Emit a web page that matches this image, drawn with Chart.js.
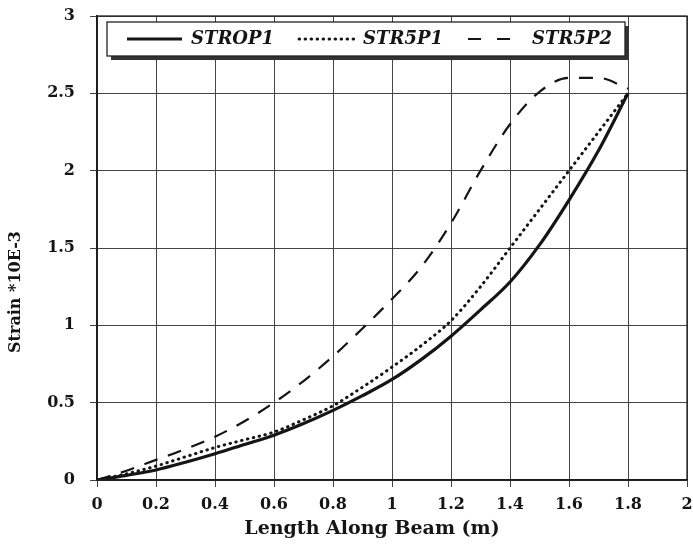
<!DOCTYPE html>
<html>
<head>
<meta charset="utf-8">
<script src="https://cdn.jsdelivr.net/npm/chart.js@4.4.1/dist/chart.umd.min.js"></script>
<style>
  html, body { margin: 0; padding: 0; background: #ffffff; }
  #wrap { width: 693px; height: 546px; position: relative; }
</style>
</head>
<body>
<div id="wrap"><canvas id="c" width="693" height="546"></canvas></div>
<script>
// ---- data ----
const lengthX = [0, 0.1, 0.2, 0.3, 0.4, 0.5, 0.6, 0.7, 0.8, 0.9, 1.0, 1.1, 1.2, 1.3, 1.4, 1.5, 1.6, 1.7, 1.8];
const strop1  = [0, 0.03, 0.065, 0.115, 0.17, 0.23, 0.29, 0.365, 0.45, 0.545, 0.65, 0.78, 0.93, 1.1, 1.28, 1.52, 1.81, 2.13, 2.5];
const str5p1  = [0, 0.04, 0.09, 0.15, 0.21, 0.26, 0.31, 0.39, 0.48, 0.6, 0.73, 0.87, 1.03, 1.25, 1.5, 1.75, 2.0, 2.25, 2.5];
const str5p2  = [0, 0.06, 0.13, 0.2, 0.28, 0.38, 0.5, 0.64, 0.8, 0.98, 1.17, 1.38, 1.66, 2.0, 2.3, 2.51, 2.6, 2.6, 2.53];
const seriesNames = ['STROP1', 'STR5P1', 'STR5P2'];
const xTickLabels = ['0', '0.2', '0.4', '0.6', '0.8', '1', '1.2', '1.4', '1.6', '1.8', '2'];
const yTickLabels = ['0', '0.5', '1', '1.5', '2', '2.5', '3'];
const xTitle = 'Length Along Beam (m)';
const yTitle = 'Strain *10E-3';

const toPoints = (ys) => ys.map((y, i) => ({ x: lengthX[i], y: y }));

const FONT = '"DejaVu Serif", "Liberation Serif", serif';
const INK = '#151515';

const framePlugin = {
  id: 'frame',
  afterInit(chart) {
    // the legend sits inside the plot: it must not take layout space
    const lg = chart.legend;
    const fit = lg.fit;
    lg.fit = function () { fit.call(this); this.height = 0; };
  },
  afterLayout(chart) {
    const lg = chart.legend;
    lg.left = chart.chartArea.left + 5;
    lg.right = chart.chartArea.right;
    lg.width = lg.right - lg.left;
    lg.top = chart.chartArea.top - 11;
    lg.bottom = lg.top + 50;
    lg.height = 50;
  },
  afterDatasetsDraw(chart) {
    const ctx = chart.ctx;
    const a = chart.chartArea;
    ctx.save();
    ctx.strokeStyle = '#222';
    ctx.lineWidth = 1.3;
    ctx.strokeRect(a.left, a.top, a.right - a.left, a.bottom - a.top);
    // legend box with shadow
    const bx = 107, by = 22, bw = 518, bh = 34;
    ctx.fillStyle = '#333';
    ctx.fillRect(bx + 4, by + 4, bw, bh);
    ctx.fillStyle = '#ffffff';
    ctx.fillRect(bx, by, bw, bh);
    ctx.strokeStyle = '#222';
    ctx.lineWidth = 1.3;
    ctx.strokeRect(bx, by, bw, bh);
    ctx.restore();
    chart.legend.draw();
  },
  afterDraw(chart) {
    const ctx = chart.ctx;
    ctx.save();
    ctx.fillStyle = INK;
    ctx.textAlign = 'center';
    ctx.textBaseline = 'middle';
    ctx.font = 'bold 19px ' + FONT;
    ctx.fillText(xTitle, 372, 529);
    ctx.font = 'bold 16px ' + FONT;
    ctx.translate(16, 292);
    ctx.rotate(-Math.PI / 2);
    ctx.fillText(yTitle, 0, 0);
    ctx.restore();
  }
};

new Chart(document.getElementById('c'), {
  type: 'line',
  data: {
    datasets: [
      { label: seriesNames[0], data: toPoints(strop1), borderColor: INK, backgroundColor: INK,
        borderWidth: 3.2, pointRadius: 0, tension: 0.4, cubicInterpolationMode: 'monotone', fill: false },
      { label: seriesNames[1], data: toPoints(str5p1), borderColor: INK, backgroundColor: INK,
        borderWidth: 3, borderDash: [0.5, 5.5], borderCapStyle: 'round', pointRadius: 0,
        tension: 0.4, cubicInterpolationMode: 'monotone', fill: false },
      { label: seriesNames[2], data: toPoints(str5p2), borderColor: INK, backgroundColor: INK,
        borderWidth: 2.2, borderDash: [14, 11], pointRadius: 0,
        tension: 0.4, cubicInterpolationMode: 'monotone', fill: false }
    ]
  },
  options: {
    responsive: false,
    animation: false,
    events: [],
    layout: { padding: { top: 16, right: 6, left: 0, bottom: 0 } },
    plugins: {
      title: { display: false },
      tooltip: { enabled: false },
      legend: {
        display: true,
        position: 'top',
        fullSize: false,
        align: 'start',
        labels: {
          usePointStyle: true,
          pointStyle: 'line',
          pointStyleWidth: 55,
          padding: 25,
          color: INK,
          font: { family: FONT, size: 18, weight: 'bold', style: 'italic' },
          generateLabels(chart) {
            const items = Chart.defaults.plugins.legend.labels.generateLabels(chart);
            items.forEach((it, i) => {
              const ds = chart.data.datasets[i];
              it.lineDash = i === 2 ? [13, 16] : (ds.borderDash || []);
              it.lineCap = ds.borderCapStyle || 'butt';
              it.lineWidth = ds.borderWidth;
              it.strokeStyle = ds.borderColor;
              it.pointStyle = 'line';
            });
            return items;
          }
        }
      }
    },
    scales: {
      x: {
        type: 'linear',
        min: 0,
        max: 2,
        ticks: {
          stepSize: 0.2,
          autoSkip: false,
          maxRotation: 0,
          padding: 8,
          color: INK,
          font: { family: FONT, size: 16, weight: 'bold' },
          callback: (v, i) => xTickLabels[i]
        },
        grid: { color: '#444', lineWidth: 1, tickLength: 7 },
        border: { color: '#111', width: 1.5 },
        afterFit(s) { s.height = 66; s.paddingLeft = 0; s.paddingRight = 6; }
      },
      y: {
        type: 'linear',
        min: 0,
        max: 3,
        ticks: {
          stepSize: 0.5,
          padding: 15,
          color: INK,
          font: { family: FONT, size: 16, weight: 'bold' },
          callback: (v, i) => yTickLabels[i]
        },
        grid: { color: '#444', lineWidth: 1, tickLength: 7 },
        border: { color: '#111', width: 1.5 },
        afterFit(s) { s.width = 97; s.paddingTop = 10; s.paddingBottom = 10; }
      }
    }
  },
  plugins: [framePlugin]
});
</script>
</body>
</html>
